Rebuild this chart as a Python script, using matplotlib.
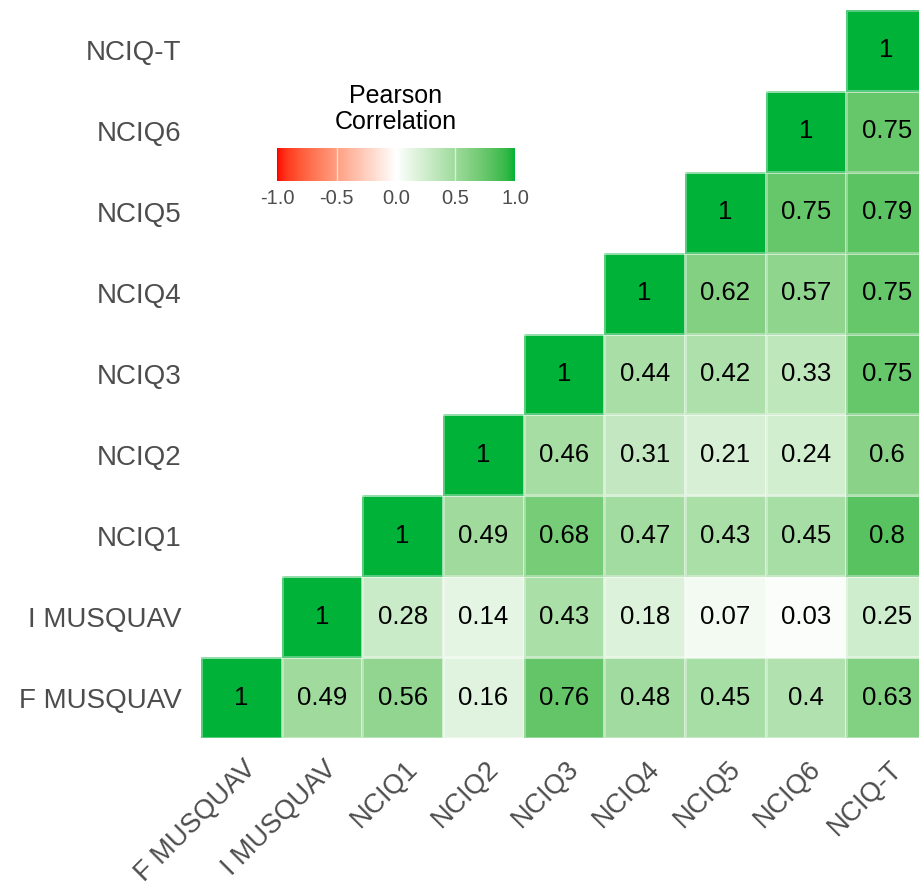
import numpy as np
import matplotlib
matplotlib.use("Agg")
import matplotlib.pyplot as plt
from matplotlib.colors import ListedColormap
from matplotlib.transforms import ScaledTranslation

plt.rcParams['font.family'] = ['Liberation Sans', 'DejaVu Sans']

labels = ['F MUSQUAV', 'I MUSQUAV', 'NCIQ1', 'NCIQ2', 'NCIQ3',
          'NCIQ4', 'NCIQ5', 'NCIQ6', 'NCIQ-T']

# upper triangle rows (row i holds corr with columns i..8)
row_f_musquav = [1, 0.49, 0.56, 0.16, 0.76, 0.48, 0.45, 0.4, 0.63]
row_i_musquav = [1, 0.28, 0.14, 0.43, 0.18, 0.07, 0.03, 0.25]
row_nciq1 = [1, 0.49, 0.68, 0.47, 0.43, 0.45, 0.8]
row_nciq2 = [1, 0.46, 0.31, 0.21, 0.24, 0.6]
row_nciq3 = [1, 0.44, 0.42, 0.33, 0.75]
row_nciq4 = [1, 0.62, 0.57, 0.75]
row_nciq5 = [1, 0.75, 0.79]
row_nciq6 = [1, 0.75]
row_nciq_t = [1]

rows = [row_f_musquav, row_i_musquav, row_nciq1, row_nciq2, row_nciq3,
        row_nciq4, row_nciq5, row_nciq6, row_nciq_t]

n = len(labels)
mat = np.full((n, n), np.nan)
for i, r in enumerate(rows):
    for k, v in enumerate(r):
        mat[i, i + k] = v


# ggplot-like gradient: interpolate in Lab space
M = np.array([[0.4124, 0.3576, 0.1805],
              [0.2126, 0.7152, 0.0722],
              [0.0193, 0.1192, 0.9505]])
WHITE = M @ np.ones(3)


def rgb_to_lab(rgb):
    c = np.asarray(rgb, float)
    lin = np.where(c <= 0.04045, c / 12.92, ((c + 0.055) / 1.055) ** 2.4)
    xyz = (M @ lin) / WHITE
    f = np.where(xyz > 0.008856, np.cbrt(xyz), 7.787 * xyz + 16 / 116)
    return np.array([116 * f[1] - 16, 500 * (f[0] - f[1]), 200 * (f[1] - f[2])])


def lab_to_rgb(lab):
    L, a, b = lab
    fy = (L + 16) / 116
    fx = fy + a / 500
    fz = fy - b / 200
    f = np.array([fx, fy, fz])
    xyz = np.where(f > 0.2069, f ** 3, (f - 16 / 116) / 7.787) * WHITE
    lin = np.linalg.solve(M, xyz)
    lin = np.clip(lin, 0, 1)
    c = np.where(lin <= 0.0031308, 12.92 * lin, 1.055 * lin ** (1 / 2.4) - 0.055)
    return np.clip(c, 0, 1)


low = rgb_to_lab([1.0, 0.0, 0.0])
mid = rgb_to_lab([1.0, 1.0, 1.0])
high = rgb_to_lab([0 / 255, 178 / 255, 56 / 255])
colors = []
for t in np.linspace(-1, 1, 256):
    if t < 0:
        lab = mid + (low - mid) * (-t)
    else:
        lab = mid + (high - mid) * t
    colors.append(lab_to_rgb(lab))
cmap = ListedColormap(colors)

fig = plt.figure(figsize=(9.19, 8.88), dpi=100)
ax = fig.add_axes([201 / 919, 150 / 888, 726 / 919, 728 / 888])

masked = np.ma.masked_invalid(mat)
mesh = ax.pcolormesh(np.arange(n + 1), np.arange(n + 1), masked,
                     cmap=cmap, vmin=-1, vmax=1,
                     edgecolors=(1, 1, 1, 0.35), linewidth=0.8)

for i in range(n):
    for j in range(n):
        if not np.isnan(mat[i, j]):
            v = mat[i, j]
            txt = '1' if v == 1 else f'{v:g}'
            ax.text(j + 0.5, i + 0.5, txt, ha='center', va='center',
                    fontsize=18.5, color='black')

ax.set_xlim(0, n)
ax.set_ylim(0, n)
ax.set_xticks(np.arange(n) + 0.5)
ax.set_yticks(np.arange(n) + 0.5)
ax.set_xticklabels(labels, rotation=45, ha='right', va='top',
                   rotation_mode='anchor', fontsize=19.5, color='#4D4D4D')
ax.set_yticklabels(labels, fontsize=20, color='#4D4D4D')
ax.tick_params(length=0)
ax.tick_params(axis='y', pad=14)
ax.tick_params(axis='x', pad=13)
shift = ScaledTranslation(2 / 100, 0, fig.dpi_scale_trans)
for lab in ax.get_xticklabels():
    lab.set_transform(lab.get_transform() + shift)
for s in ax.spines.values():
    s.set_visible(False)

# legend colorbar
cax = fig.add_axes([277 / 919, 1 - 181 / 888, 238 / 919, 33 / 888])
cb = fig.colorbar(mesh, cax=cax, orientation='horizontal')
cb.outline.set_visible(False)
cb.set_ticks([-1.0, -0.5, 0.0, 0.5, 1.0])
cb.set_ticklabels(['-1.0', '-0.5', '0.0', '0.5', '1.0'])
cax.tick_params(labelsize=14.5, labelcolor='#4D4D4D', length=0, pad=6)
for t in [-0.5, 0.0, 0.5]:
    cax.axvline(t, color='white', linewidth=1, alpha=0.6)
fig.text(396 / 919, 1 - 109 / 888, 'Pearson\nCorrelation', ha='center',
         va='center', fontsize=18, color='black', linespacing=1.15)

fig.savefig('out.png', dpi=100)
